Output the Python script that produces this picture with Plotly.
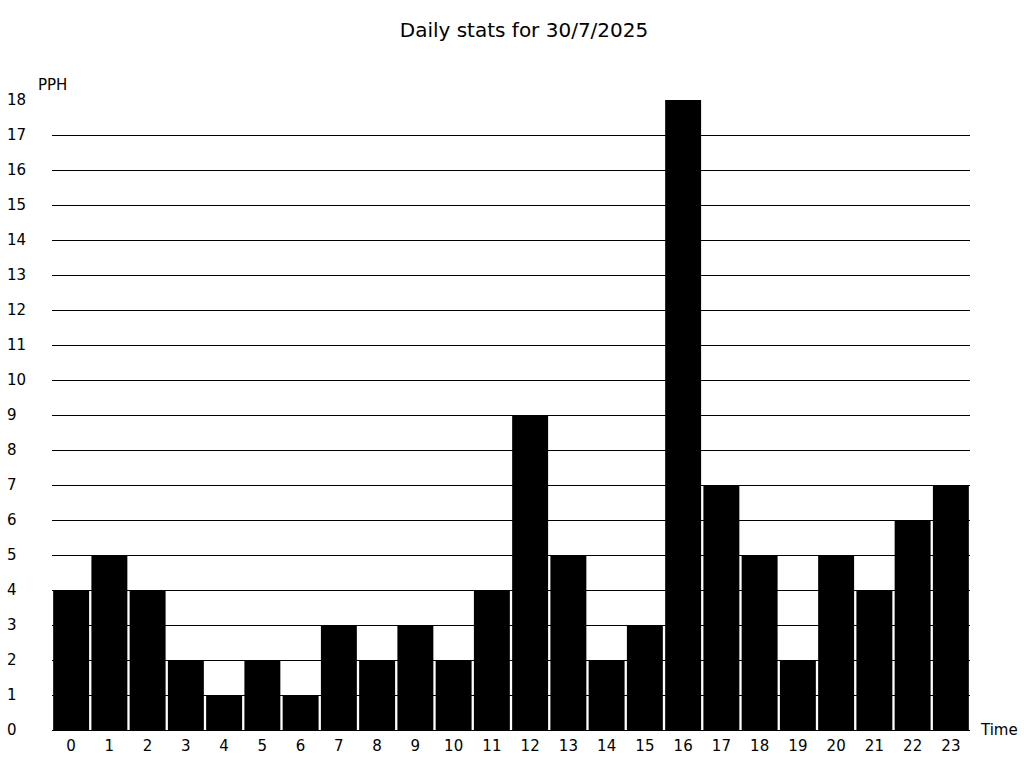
import plotly.graph_objects as go

hours = [str(h) for h in range(24)]
pph = [4, 5, 4, 2, 1, 2, 1, 3, 2, 3, 2, 4, 9, 5, 2, 3, 18, 7, 5, 2, 5, 4, 6, 7]
y_ticks = list(range(0, 19))
title_text = "Daily stats for 30/7/2025"
y_label = "PPH"
x_label = "Time"

FONT = "DejaVu Sans"
TICKFONT = dict(family=FONT, size=15, color="black")

fig = go.Figure(go.Bar(x=hours, y=pph, marker=dict(color="black", line=dict(width=0))))

fig.update_layout(
    width=1024, height=768, autosize=False,
    margin=dict(l=52, r=54, t=100, b=38, autoexpand=False),
    plot_bgcolor="white", paper_bgcolor="white",
    bargap=0.06,
    showlegend=False,
    font=dict(family=FONT, size=15, color="black"),
    title=dict(text=title_text, x=524 / 1024, xanchor="center", y=1 - 30 / 768, yanchor="middle",
               font=dict(family=FONT, size=20, color="black")),
)
fig.update_xaxes(
    type="category", range=[-0.5, 23.5], showgrid=False, showline=True, linecolor="black",
    linewidth=1, ticks="", tickfont=TICKFONT, ticklabelstandoff=2, automargin=False,
)
fig.update_yaxes(
    range=[0, 18], tickvals=y_ticks, showgrid=True, gridcolor="black", gridwidth=1,
    zeroline=False, showline=False, ticks="", automargin=False,
    ticklabelposition="inside", ticklabelstandoff=-48, ticklabeloverflow="allow",
    tickfont=TICKFONT,
)
fig.add_annotation(text=y_label, xref="paper", yref="paper", x=-16 / 918, y=1, yshift=15,
                   xanchor="left", yanchor="middle", showarrow=False, font=dict(size=15))
fig.add_annotation(text=x_label, xref="paper", yref="paper", x=1, xshift=8, y=0,
                   xanchor="left", yanchor="middle", showarrow=False, font=dict(size=15))

fig.write_html("out.html", config={"displayModeBar": False},
               post_script="document.body.style.margin='0';")
